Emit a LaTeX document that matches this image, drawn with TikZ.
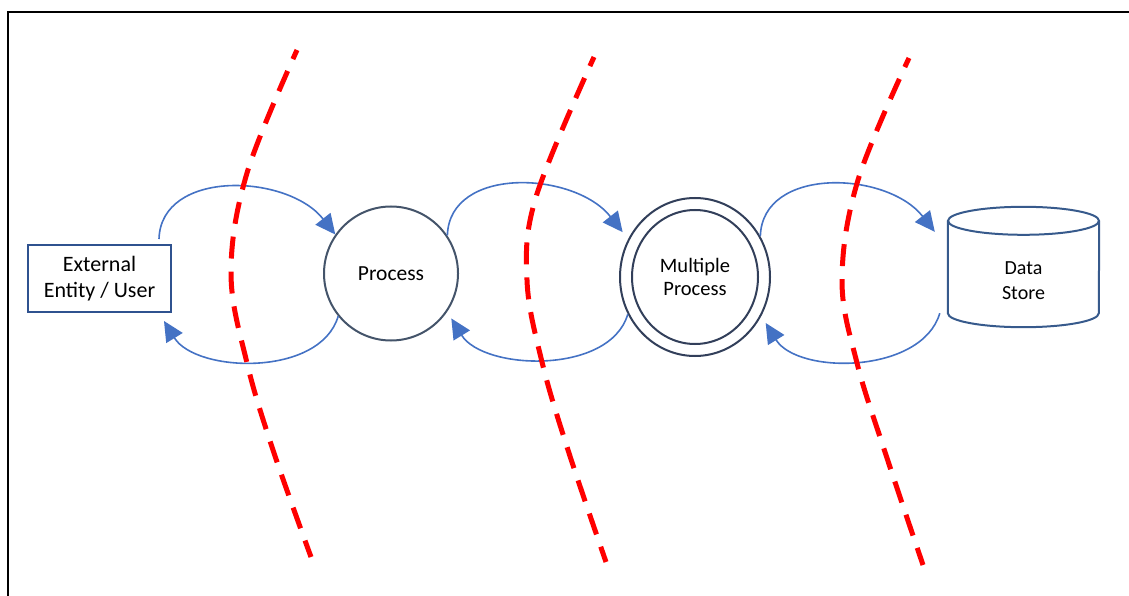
\documentclass[tikz,border=0pt]{standalone}
\usepackage{fontspec}
\setmainfont{Carlito}
\usetikzlibrary{arrows.meta,shapes.geometric}
\definecolor{boxc}{RGB}{47,82,143}
\definecolor{circc}{RGB}{68,84,106}
\definecolor{multc}{RGB}{50,63,90}
\definecolor{cylc}{RGB}{55,90,140}
\definecolor{flowc}{RGB}{68,114,196}
\definecolor{redc}{RGB}{255,0,0}
\tikzset{
  flow/.style={draw=flowc, line width=1.6pt, -{Triangle[length=20pt,width=19pt]}},
  boundary/.style={draw=redc, line width=5pt, dash pattern=on 22pt off 13pt, dash phase=12pt},
  txt/.style={align=center, text=black},
}
\begin{document}
\begin{tikzpicture}[x=1pt,y=-1pt]
\useasboundingbox (0,0) rectangle (1129,596);
% frame
\draw[line width=2pt, black] (8,597) -- (8,12) -- (1130,12);

% nodes
\node[draw=boxc, line width=2pt, minimum width=143pt, minimum height=67pt, inner sep=0pt, txt, font=\fontsize{22}{26}\selectfont] (ext) at (99.5,278.5) {External\\Entity / User};
\node[circle, draw=circc, line width=2pt, minimum size=134pt, inner sep=0pt, txt, font=\fontsize{21.5}{25}\selectfont] (proc) at (391,273.5) {Process};
\node[ellipse, draw=multc, line width=2pt, minimum width=150pt, minimum height=158pt, inner sep=0pt] (mult) at (695,277) {};
\node[ellipse, draw=multc, line width=2pt, minimum width=126pt, minimum height=134pt, inner sep=0pt, txt, font=\fontsize{20.5}{23}\selectfont] (multin) at (695,277) {Multiple\\Process};
\node[draw=none, minimum width=151pt, minimum height=92pt, inner sep=0pt, txt, font=\fontsize{20}{25}\selectfont] (ds) at (1023.5,281) {Data\\Store};
\draw[cylc, line width=2pt] ([yshift=14pt]ds.north) ellipse [x radius=75.5pt, y radius=14pt];
\draw[cylc, line width=2pt] ([yshift=14pt]ds.north west) -- ([yshift=14pt]ds.south west)
   arc[start angle=180, end angle=360, x radius=75.5pt, y radius=14pt] -- ([yshift=14pt]ds.north east);

% flows
\draw[flow] ([xshift=-13pt,yshift=5pt]ext.north east) .. controls +(2,-70) and +(-48,-61) .. (proc.145);
\draw[flow] (proc.219) .. controls +(-18,61) and +(32,52) .. ([xshift=-8pt,yshift=-8pt]ext.south east);
\draw[flow] (proc.34) .. controls +(2,-70) and +(-48,-61) .. ([shift={(-7pt,4pt)}]mult.148);
\draw[flow] (mult.209) .. controls +(-18,61) and +(32,52) .. ([shift={(6pt,-4pt)}]proc.-37);
\draw[flow] (mult.32) .. controls +(2,-70) and +(-48,-61) .. ([shift={(-13pt,3pt)}]ds.north west);
\draw[flow] ([shift={(-8pt,14pt)}]ds.south west) .. controls +(-18,61) and +(32,52) .. ([shift={(6pt,-4pt)}]mult.-33);

% trust boundaries
\draw[boundary] plot[smooth, tension=0.6] coordinates {(297,50) (247,173) (231,273) (247,363) (273,450) (311,557)};
\draw[boundary] plot[smooth, tension=0.6] coordinates {(594,57) (536,197) (527,280) (542,362) (568,450) (606,562)};
\draw[boundary] plot[smooth, tension=0.6] coordinates {(909,58) (858,180) (842,280) (857,363) (885,452) (923,565)};
\end{tikzpicture}
\end{document}
